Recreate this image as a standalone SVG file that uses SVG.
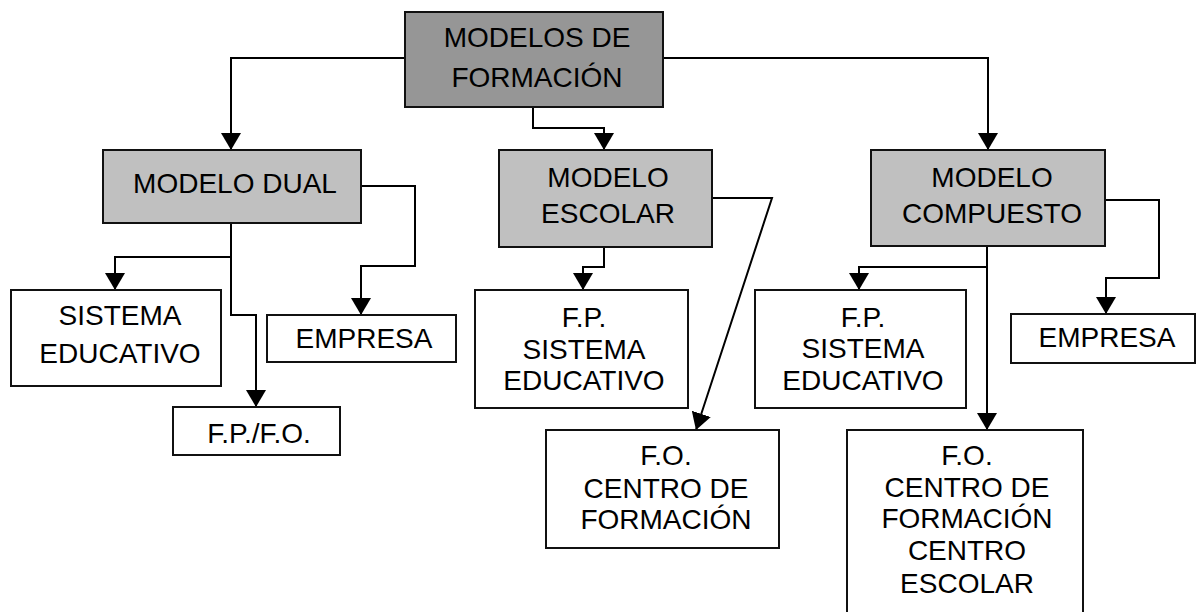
<svg xmlns="http://www.w3.org/2000/svg" width="1196" height="612" viewBox="0 0 1196 612">
<style>
.box{stroke:#111;stroke-width:2;fill:#fff}
.dark{fill:#969696}
.mid{fill:#c0c0c0}
.t{font-family:"Liberation Sans",Arial,sans-serif;font-size:28px;fill:#000;text-anchor:middle}
.c{fill:none;stroke:#000;stroke-width:2;marker-end:url(#arr)}
</style>
<defs>
<marker id="arr" markerUnits="userSpaceOnUse" viewBox="0 0 17 20" markerWidth="17" markerHeight="20" refX="17" refY="10" orient="auto">
<path d="M0,0 L17,10 L0,20 Z" fill="#000"/>
</marker>
</defs>
<g id="connectors">
<path class="c" d="M405,58 H231 V150"/>
<path class="c" d="M663,58 H988 V150"/>
<path class="c" d="M533,107 V128 H604 V150"/>
<path class="c" d="M361,186 H415 V266 H361 V315"/>
<path class="c" d="M231,223 V257 H115 V290"/>
<path class="c" d="M231,257 V315 H256 V407"/>
<path class="c" d="M604,247 V267 H583 V290"/>
<path class="c" d="M712,198 H772 L696,430"/>
<path class="c" d="M1105,200 H1159 V278 H1106 V314"/>
<path class="c" d="M987,246 V267 H859 V290"/>
<path class="c" d="M987,267 V430"/>
</g>
<g id="modelos-formacion">
<rect class="box dark" x="405" y="12" width="258" height="95"/>
<text class="t" x="537" y="47">MODELOS DE</text>
<text class="t" x="537" y="87">FORMACIÓN</text>
</g>
<g id="modelo-dual">
<rect class="box mid" x="103" y="150" width="258" height="73"/>
<text class="t" x="235" y="193">MODELO DUAL</text>
</g>
<g id="modelo-escolar">
<rect class="box mid" x="499" y="150" width="213" height="97"/>
<text class="t" x="608" y="187">MODELO</text>
<text class="t" x="608" y="223">ESCOLAR</text>
</g>
<g id="modelo-compuesto">
<rect class="box mid" x="871" y="150" width="234" height="96"/>
<text class="t" x="992" y="187">MODELO</text>
<text class="t" x="992" y="223">COMPUESTO</text>
</g>
<g id="sistema-educativo">
<rect class="box" x="11" y="290" width="210" height="96"/>
<text class="t" x="120" y="325">SISTEMA</text>
<text class="t" x="120" y="363">EDUCATIVO</text>
</g>
<g id="empresa-dual">
<rect class="box" x="267" y="315" width="189" height="47"/>
<text class="t" x="364" y="348">EMPRESA</text>
</g>
<g id="fpfo">
<rect class="box" x="173" y="407" width="167" height="48"/>
<text class="t" x="259" y="443">F.P./F.O.</text>
</g>
<g id="fp-escolar">
<rect class="box" x="475" y="290" width="213" height="118"/>
<text class="t" x="584" y="327">F.P.</text>
<text class="t" x="584" y="359">SISTEMA</text>
<text class="t" x="584" y="390">EDUCATIVO</text>
</g>
<g id="fo-escolar">
<rect class="box" x="546" y="430" width="233" height="118"/>
<text class="t" x="666" y="465">F.O.</text>
<text class="t" x="666" y="498">CENTRO DE</text>
<text class="t" x="666" y="529">FORMACIÓN</text>
</g>
<g id="fp-compuesto">
<rect class="box" x="755" y="290" width="211" height="118"/>
<text class="t" x="863" y="327">F.P.</text>
<text class="t" x="863" y="358">SISTEMA</text>
<text class="t" x="863" y="390">EDUCATIVO</text>
</g>
<g id="empresa-compuesto">
<rect class="box" x="1011" y="314" width="184" height="49"/>
<text class="t" x="1107" y="347">EMPRESA</text>
</g>
<g id="fo-compuesto">
<rect class="box" x="847" y="430" width="236" height="190"/>
<text class="t" x="967" y="465">F.O.</text>
<text class="t" x="967" y="497">CENTRO DE</text>
<text class="t" x="967" y="528">FORMACIÓN</text>
<text class="t" x="967" y="560">CENTRO</text>
<text class="t" x="967" y="593">ESCOLAR</text>
</g>
</svg>
